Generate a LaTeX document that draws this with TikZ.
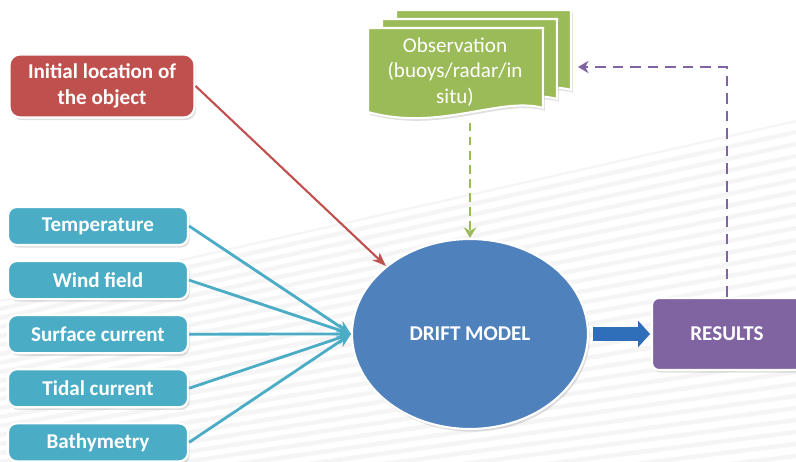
\documentclass[tikz,border=0pt]{standalone}
\usepackage{fontspec}
\setmainfont{Carlito}
\usetikzlibrary{arrows.meta,positioning,shadows,shapes.geometric}

\definecolor{initred}{HTML}{C0504D}
\definecolor{paramcyan}{HTML}{4BACC6}
\definecolor{obsgreen}{HTML}{9BBB59}
\definecolor{driftblue}{HTML}{4F81BD}
\definecolor{resviolet}{HTML}{8064A2}
\definecolor{flowblue}{HTML}{2F6EB8}

\begin{document}
\begin{tikzpicture}[
  x=0.02cm, y=-0.02cm,
  font=\fontsize{12}{14.5}\selectfont,
  node distance=0.28cm,
  card/.style={draw=white,line width=1.2pt,text=white,align=center,
    drop shadow={opacity=0.25,shadow xshift=1pt,shadow yshift=-1.5pt}},
  startbox/.style={card,rounded corners=6pt,fill=initred,font=\fontsize{12}{14.5}\selectfont\bfseries,
    minimum width=3.7cm,minimum height=1.26cm},
  parambox/.style={card,rounded corners=5pt,fill=paramcyan,font=\fontsize{12}{14.5}\selectfont\bfseries,
    minimum width=3.6cm,minimum height=0.76cm},
  sheet/.style={card,fill=obsgreen},
  obstext/.style={text=white,align=center,minimum width=3.5cm,minimum height=1.8cm,inner sep=0pt},
  driftell/.style={card,ellipse,fill=driftblue,font=\fontsize{12}{14.5}\selectfont\bfseries,
    minimum width=4.72cm,minimum height=3.8cm,inner sep=0pt},
  resbox/.style={card,rounded corners=4pt,fill=resviolet,font=\fontsize{12}{14.5}\selectfont\bfseries,
    minimum width=3cm,minimum height=1.44cm},
  seed/.style={-{Stealth[length=8pt,width=6pt]},line width=1.2pt,draw=initred},
  feed/.style={-{Stealth[length=8pt,width=7pt]},line width=1.6pt,draw=paramcyan},
  obsflow/.style={-{Stealth[length=6pt,width=7pt]},line width=1.4pt,draw=obsgreen,dash pattern=on 5pt off 3pt},
  loopback/.style={-{Stealth[length=6pt,width=7pt]},line width=1.4pt,draw=resviolet,dash pattern=on 6pt off 4pt},
  mainflow/.style={-{Triangle[length=0.24cm,width=0.52cm]},line width=0.28cm,draw=flowblue},
]
\useasboundingbox (0,0) rectangle (796,462);

% faint stripes in the background
\begin{scope}
  \clip (0,462) -- (0,300) -- (796,120) -- (796,462) -- cycle;
  \foreach \k in {0,...,45}
    \draw[black!4,line width=2.5pt] (0,300+\k*9) -- (796,120+\k*12);
\end{scope}

% observation sheets, back to front
\foreach \dx/\dy in {28/-18,14/-9,0/0}
  \path[sheet,shift={(\dx,\dy)}] (368,28) -- (543,28) -- (543,108)
    .. controls (500,96) and (440,132) .. (368,112) -- cycle;
\node[obstext] (obs) at (455,72) {Observation\\(buoys/radar/in\\situ)};

\node[startbox] (start) at (102,86) {Initial location of\\the object};

\node[parambox] (temp) at (98,226) {Temperature};
\node[parambox, below=of temp] (wind) {Wind field};
\node[parambox, below=of wind] (surf) {Surface current};
\node[parambox, below=of surf] (tide) {Tidal current};
\node[parambox, below=of tide] (bathy) {Bathymetry};

\node[driftell] (drift) at (470,334) {DRIFT MODEL};
\node[resbox] (res) at (727,334) {RESULTS};
\coordinate (obsin) at (578,67);

\draw[seed] (start.east) -- (drift.141);
\foreach \p in {temp,wind,surf,tide,bathy}
  \draw[feed] (\p.east) -- (drift.west);
\draw[obsflow,shorten <=3pt] (obs.south -| drift.north) -- (drift.north);
\draw[mainflow,shorten <=2.5pt,shorten >=0.5pt] (drift.east) -- (res.west);
\draw[loopback] (res.north) |- (obsin);
\end{tikzpicture}
\end{document}
